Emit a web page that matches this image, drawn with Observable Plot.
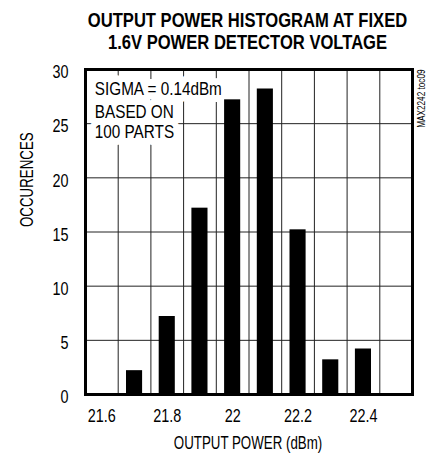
<!DOCTYPE html>
<html><head><meta charset="utf-8">
<script src="https://cdn.jsdelivr.net/npm/d3@7"></script>
<script src="https://cdn.jsdelivr.net/npm/@observablehq/plot@0.6"></script>
<style>body{margin:0;background:#fff}</style>
</head><body><div id="chart"></div>
<script>
const powerBins = [21.7, 21.8, 21.9, 22.0, 22.1, 22.2, 22.3, 22.4];
const occurrences = [2.2, 7.2, 17.2, 27.2, 28.2, 15.2, 3.2, 4.2];
const xTicks = [21.6, 21.8, 22, 22.2, 22.4];
const yTicks = [0, 5, 10, 15, 20, 25, 30];
const xGrid = [21.65, 21.75, 21.85, 21.95, 22.05, 22.15, 22.25, 22.35, 22.45];
const yGrid = [5, 10, 15, 20, 25];
const titleLines = ["OUTPUT POWER HISTOGRAM AT FIXED", "1.6V POWER DETECTOR VOLTAGE"];
const noteLines = ["SIGMA = 0.14dBm", "BASED ON", "100 PARTS"];
const xLabel = "OUTPUT POWER (dBm)";
const yLabel = "OCCURENCES";
const codeLabel = "MAX2242 toc09";

const data = powerBins.map((p, i) => ({power: p, count: occurrences[i]}));
const FONT = "'Liberation Sans Narrow', 'Arial Narrow', 'Liberation Sans', Arial, sans-serif";
const halo = {stroke: "white", strokeWidth: 14, strokeLinejoin: "round", fill: "black"};
const note = {frameAnchor: "top-left", textAnchor: "start", lineAnchor: "bottom", dx: 9.3, fontSize: 18, ...halo};

const chart = Plot.plot({
  width: 434, height: 455,
  marginLeft: 85, marginRight: 22, marginTop: 69, marginBottom: 61,
  style: {fontFamily: FONT, fontSize: "18px", color: "#000", background: "#fff"},
  x: {domain: [21.55, 22.55], label: null},
  y: {domain: [0, 30], label: null},
  marks: [
    Plot.ruleX(xGrid, {stroke: "#222", strokeWidth: 1}),
    Plot.ruleY(yGrid, {stroke: "#222", strokeWidth: 1}),
    Plot.text([noteLines[0]], {...note, dy: 25.3}),
    Plot.text([noteLines[1]], {...note, dy: 48.7}),
    Plot.text([noteLines[2]], {...note, dy: 68.7}),
    Plot.rectY(data, {x1: d => d.power - 0.05, x2: d => d.power + 0.05, y: "count", fill: "#000", insetLeft: 8.3, insetRight: 8.3}),
    Plot.frame({stroke: "#000", strokeWidth: 3}),
    Plot.axisX({ticks: xTicks, tickSize: 0, tickPadding: 15, tickFormat: d => String(d), fontSize: 18, label: null}),
    Plot.axisY({ticks: yTicks, tickSize: 0, tickPadding: 17, dy: 3, tickFormat: d => String(d), fontSize: 18, label: null}),
    Plot.text([titleLines[0]], {frameAnchor: "top", lineAnchor: "bottom", dy: -42.3, dx: -1.5, fontSize: 20, fontWeight: "bold"}),
    Plot.text([titleLines[1]], {frameAnchor: "top", lineAnchor: "bottom", dy: -20.7, dx: -1.5, fontSize: 20, fontWeight: "bold"}),
    Plot.text([xLabel], {frameAnchor: "bottom", lineAnchor: "bottom", dy: 54.3, dx: -1, fontSize: 18}),
    Plot.text([yLabel], {frameAnchor: "left", rotate: -90, dx: -58.3, dy: -5, fontSize: 18}),
    Plot.text([codeLabel], {frameAnchor: "top-right", rotate: -90, textAnchor: "end", dx: 5, fontSize: 10})
  ]
});

// condense glyphs horizontally (emulates the condensed typeface of the original)
function condense(el, s) {
  const x = parseFloat(el.getAttribute("x") || 0);
  const y = parseFloat(el.getAttribute("y") || 0);
  const t = el.getAttribute("transform") || "";
  el.setAttribute("transform", `${t} translate(${x},${y}) scale(${s},1) translate(${-x},${-y})`);
}
chart.querySelectorAll("text").forEach(el => {
  const c = el.textContent.trim();
  let s = 0.8;
  if (titleLines.includes(c)) s = 0.83;
  else if (noteLines.includes(c)) s = 0.85;
  else if (c === xLabel || c === yLabel) s = 0.74;
  else if (c === codeLabel) s = 0.82;
  condense(el, s);
});
document.getElementById("chart").appendChild(chart);
</script>
</body></html>
